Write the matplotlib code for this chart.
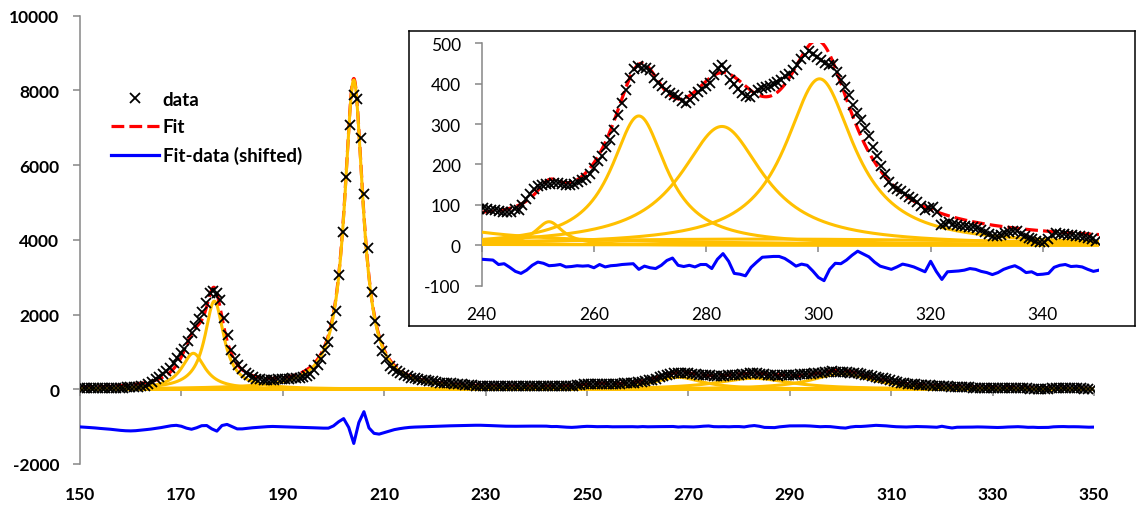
import numpy as np
import matplotlib
matplotlib.use("Agg")
import matplotlib.pyplot as plt
from matplotlib.lines import Line2D
from matplotlib.font_manager import FontProperties

plt.rcParams["axes.unicode_minus"] = False

# ---------------- data ----------------
x_start = 150.0
x_step = 0.71
counts = [
    45, 40, 38, 42, 35, 32, 38, 35, 32, 38,
    42, 38, 42, 48, 48, 55, 60, 75, 100, 140,
    200, 265, 330, 400, 480, 580, 710, 840, 960, 1090,
    1290, 1515, 1700, 1890, 2080, 2300, 2580, 2630, 2590, 2400,
    1900, 1450, 1060, 820, 660, 540, 430, 370, 320, 285,
    265, 255, 250, 255, 260, 265, 270, 275, 280, 290,
    300, 315, 335, 360, 420, 510, 640, 810, 1060, 1260,
    1700, 2100, 3060, 4220, 5680, 7070, 7890, 7760, 6720, 5240,
    3770, 2600, 1830, 1340, 1030, 800, 630, 540, 490, 430,
    380, 345, 315, 290, 275, 260, 240, 225, 210, 195,
    180, 170, 160, 155, 148, 140, 133, 125, 118, 110,
    100, 95, 90, 88, 86, 85, 84, 82, 82, 80,
    82, 84, 85, 86, 88, 90, 90, 91, 90, 88,
    86, 84, 83, 82, 82, 90, 88, 100, 115, 126,
    140, 147, 150, 151, 152, 153, 153, 151, 149, 150,
    152, 157, 161, 167, 175, 190, 208, 222, 242, 260,
    285, 323, 352, 384, 414, 437, 444, 440, 438, 435,
    415, 402, 394, 385, 378, 372, 366, 358, 353, 360,
    370, 380, 388, 395, 401, 422, 440, 447, 433, 408,
    398, 388, 378, 370, 366, 376, 385, 390, 392, 395,
    400, 404, 410, 418, 425, 435, 447, 460, 472, 481,
    474, 465, 458, 450, 447, 448, 430, 410, 392, 372,
    348, 328, 309, 290, 270, 242, 222, 195, 175, 157,
    145, 138, 133, 127, 119, 114, 107, 98, 87, 92,
    95, 83, 50, 52, 58, 53, 50, 48, 47, 46,
    44, 42, 38, 32, 27, 23, 22, 26, 29, 32,
    34, 35, 28, 22, 18, 14, 10, 8, 9, 14,
    25, 29, 28, 27, 25, 24, 23, 22, 21, 18,
    14, 10,
]
data_x = x_start + x_step * np.arange(len(counts))

# fitted Lorentzian components (centre, height, half width)
peak_centers = [172.35, 176.5, 204.0, 252.0, 268.0, 282.8, 300.2, 290.0]
peak_heights = [963, 2361, 8280, 58, 320, 294, 412, 15]
peak_hwhm = [2.8, 2.3, 2.25, 3.0, 6.0, 9.0, 7.5, 60.0]

# residual (as plotted, before shifting), one value per unit from 150
resid_start = 150
resid = [
    -7, -15, -25, -35, -48, -58, -70, -85, -100, -110,
    -114, -108, -95, -80, -65, -45, -25, 0, 25, 35,
    10, -40, -70, -30, 25, 30, -60, -120, 30, 60,
    0, -60, -60, -45, -30, -20, -10, 0, 5, 0,
    -5, -8, -12, -15, -20, -25, -30, -35, -40, -40,
    20, 130, 215, -20, -450, 110, 400, -35, -180, -200,
    -160, -120, -80, -55, -35, -20, -12, -7, -2, 3,
    8, 12, 18, 22, 25, 28, 32, 35, 37, 37,
    33, 28, 22, 16, 12, 10, 10, 12, 13, 14,
    15, 14, 13, 2, 4, -5, -15, -20, -12, 0,
    8, 5, -1, 0, 2, -4, -3, -1, -2, -1,
    -6, 2, -4, -1, 0, 2, 3, 4, -10, -2,
    -6, -8, 0, 12, 18, 0, -3, 0, -4, 2,
    2, -8, 15, 29, 10, -20, -22, -26, -5, 8,
    20, 21, 22, 22, 17, 8, -2, 3, 0, -14,
    -30, -38, -10, 5, 4, 13, 25, 35, 28, 21,
    8, -2, -6, -10, -4, 3, 0, -4, -10, -16,
    10, -15, -35, -16, -15, -14, -12, -8, -10, -15,
    -18, -23, -18, -10, -5, -1, -8, -18, -16, -23,
    -22, -20, -5, 0, 2, -3, -2, -4, -10, -15,
    -12,
]
resid_x = resid_start + np.arange(len(resid))
main_shift = -1000
inset_shift = -50

main_xticks = list(range(150, 351, 20))
main_yticks = list(range(-2000, 10001, 2000))
inset_xticks = list(range(240, 341, 20))
inset_yticks = list(range(-100, 501, 100))
legend_labels = ["data", "Fit", "Fit-data (shifted)"]

# ---------------- style ----------------
ORANGE = "#FFC000"
RED = "#FF0000"
BLUE = "#0000FF"
GRAY = "#868686"
FONT = "Lato"

W, H = 1137, 506
fig = plt.figure(figsize=(W / 100, H / 100), dpi=100)


def fx(px):
    return px / W


def fy(py):
    return 1 - py / H


# model curves from the component parameters
xs = np.linspace(150, 350, 4001)
comps = [h / (1 + ((xs - c) / g) ** 2) for c, h, g in zip(peak_centers, peak_heights, peak_hwhm)]
fit = np.sum(comps, axis=0)


def draw(ax, ms, shift):
    ax.plot(xs, fit, color=RED, lw=2.3, dashes=(4, 1.6), zorder=2)
    for comp in comps:
        ax.plot(xs, comp, color=ORANGE, lw=2.2, zorder=3)
    ax.plot(resid_x, np.array(resid) + shift, color=BLUE, lw=2.2, zorder=3)
    ax.plot(data_x, counts, linestyle="none", marker="x", color="black",
            ms=ms, mew=1.3, zorder=4)


# ---------------- main axes ----------------
ax = fig.add_axes([fx(80), fy(465), fx(1094) - fx(80), fy(16.7) - fy(465)])
draw(ax, 6.5, main_shift)
ax.set_xlim(150, 350)
ax.set_ylim(-2000, 10000)
for s in ["top", "right", "bottom"]:
    ax.spines[s].set_visible(False)
ax.spines["left"].set_color(GRAY)
ax.spines["left"].set_linewidth(1.1)
ax.set_xticks(main_xticks)
ax.set_yticks(main_yticks)
ax.tick_params(axis="y", length=5, width=1.1, color=GRAY, pad=10, labelsize=12.5)
ax.tick_params(axis="x", length=0, pad=16, labelsize=12.5)
for lbl in ax.get_xticklabels() + ax.get_yticklabels():
    lbl.set_fontfamily(FONT)
    lbl.set_fontweight("bold")

sec = ax.secondary_xaxis((0 - (-2000)) / 12000)
sec.set_xticks(main_xticks)
sec.tick_params(length=5, width=1.1, color=GRAY, direction="out", labelbottom=False, labeltop=False)
for s in sec.spines.values():
    s.set_visible(False)

handles = [
    Line2D([], [], linestyle="none", marker="x", color="black", ms=7.5, mew=1.3),
    Line2D([], [], color=RED, lw=2.3, dashes=(4, 1.6)),
    Line2D([], [], color=BLUE, lw=2.3),
]
ax.legend(handles, legend_labels, loc="upper left", bbox_to_anchor=(0.0306, 0.833),
          frameon=False, borderpad=0, borderaxespad=0, handlelength=2.56,
          handletextpad=0.2, labelspacing=0.58,
          prop=FontProperties(family=FONT, weight="bold", size=13.5))

# ---------------- inset ----------------
frame = fig.add_axes([fx(409), fy(327.3), fx(1135) - fx(409), fy(31.7) - fy(327.3)])
frame.set_xticks([])
frame.set_yticks([])
frame.set_facecolor("white")
for s in frame.spines.values():
    s.set_color("black")
    s.set_linewidth(1.1)

iax = fig.add_axes([fx(481.7), fy(286.5), fx(1099) - fx(481.7), fy(44.3) - fy(286.5)])
iax.set_facecolor("none")
draw(iax, 7.5, inset_shift)
iax.set_xlim(240, 350)
iax.set_ylim(-100, 500)
for s in ["top", "right", "bottom"]:
    iax.spines[s].set_visible(False)
iax.spines["left"].set_color(GRAY)
iax.spines["left"].set_linewidth(1.1)
iax.set_xticks(inset_xticks)
iax.set_yticks(inset_yticks)
iax.tick_params(axis="y", length=5, width=1.1, color=GRAY, pad=10, labelsize=12.5)
iax.tick_params(axis="x", length=0, pad=15, labelsize=12.5)
for lbl in iax.get_xticklabels() + iax.get_yticklabels():
    lbl.set_fontfamily(FONT)

isec = iax.secondary_xaxis((0 - (-100)) / 600)
isec.set_xticks(inset_xticks)
isec.tick_params(length=5, width=1.1, color=GRAY, direction="out", labelbottom=False, labeltop=False)
for s in isec.spines.values():
    s.set_visible(False)

fig.savefig("out.png", dpi=100)
